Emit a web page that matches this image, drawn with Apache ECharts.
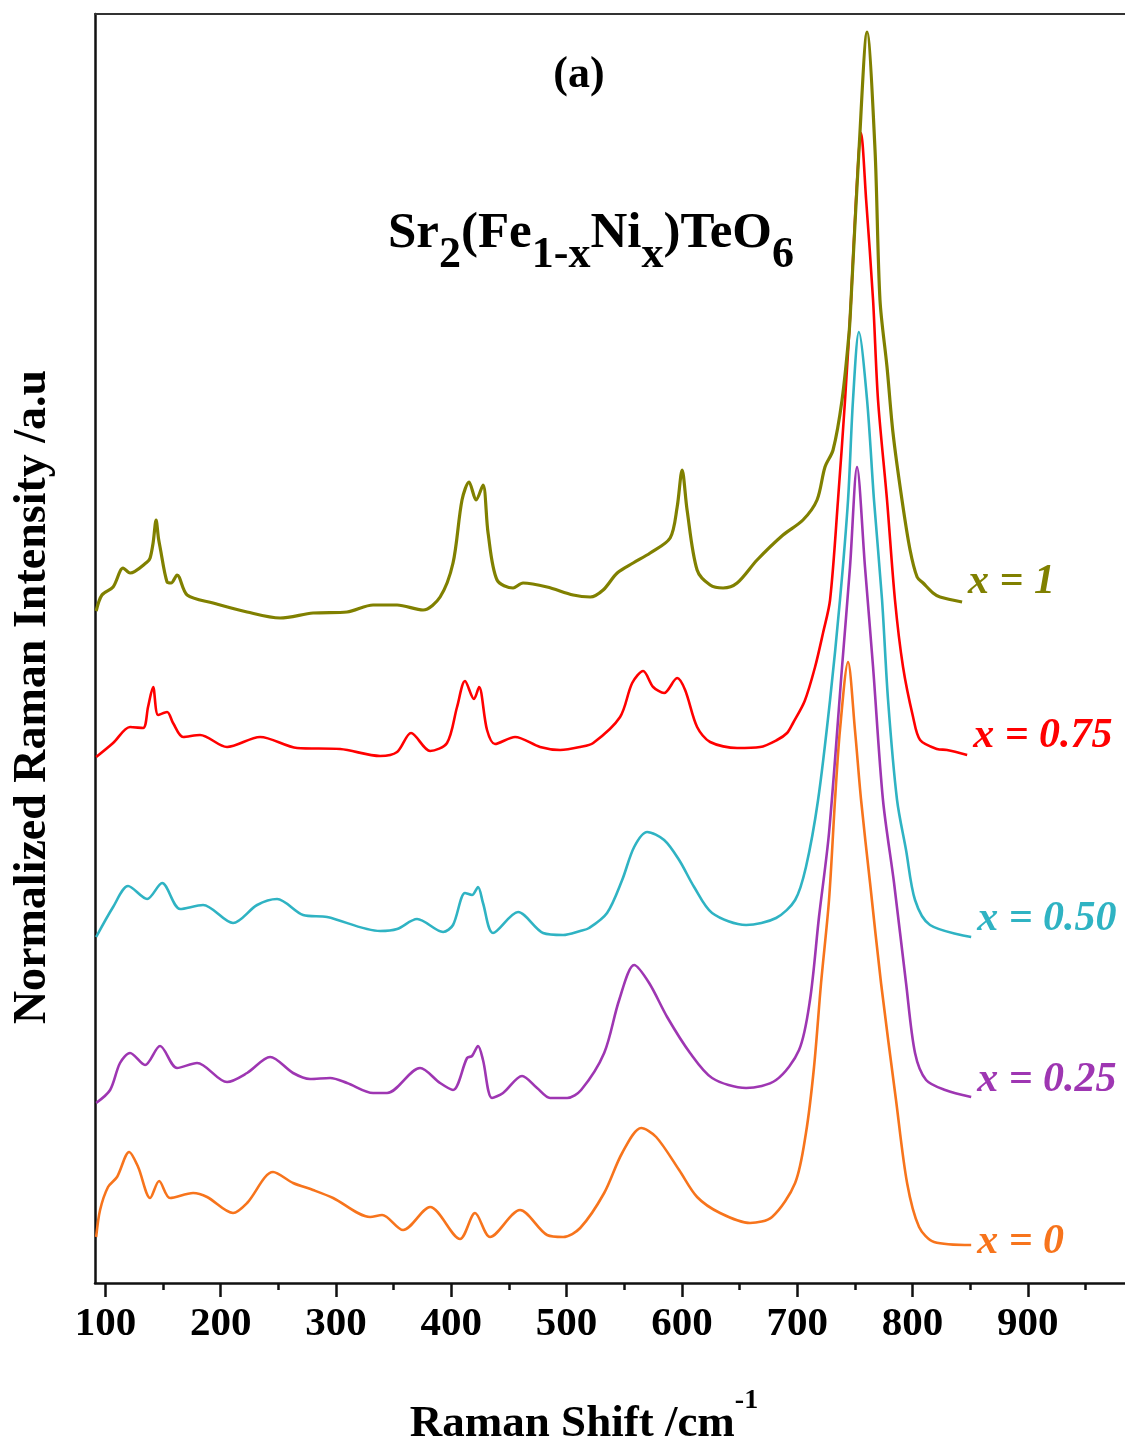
<!DOCTYPE html>
<html><head><meta charset="utf-8">
<script src="https://cdn.jsdelivr.net/npm/echarts@6/dist/echarts.min.js"></script>
<style>html,body{margin:0;padding:0;background:#fff}#chart{width:1125px;height:1441px}</style>
</head><body><div id="chart"></div>
<script>
// ---- data (Raman shift in cm^-1, stacked normalized intensity in a.u.) ----
const xMajorTicks = [100, 200, 300, 400, 500, 600, 700, 800, 900];
const xMinorTicks = [150, 250, 350, 450, 550, 650, 750, 850, 950];
const seriesNames = ['x = 0', 'x = 0.25', 'x = 0.50', 'x = 0.75', 'x = 1'];

const ramanX0 = [92,95.4,102.3,110.1,120.6,128.4,138.8,146.6,156.1,176.1,188.2,210.7,222.9,245.4,262.8,280.1,297.5,329.6,340.0,358.2,381.6,407.6,420.6,433.6,459.6,483.1,497.0,511.8,532.6,548.2,564.7,577.7,597.6,613.2,633.1,659.1,678.2,698.2,707.6,714.6,720.7,727.6,732.8,737.1,744.1,750.1,755.4,763.2,772.7,785.7,795.3,805.7,818.7,850.9];
const intensityX0 = [0.46,0.73,0.96,1.06,1.31,1.16,0.85,1.02,0.85,0.90,0.86,0.70,0.80,1.11,1.00,0.93,0.85,0.66,0.68,0.53,0.76,0.44,0.70,0.46,0.73,0.48,0.46,0.55,0.90,1.30,1.55,1.46,1.13,0.86,0.70,0.60,0.66,1.00,1.50,2.16,3.00,3.83,4.83,5.53,6.21,5.53,4.83,4.00,3.00,1.83,1.00,0.56,0.41,0.38];

const ramanX025 = [92,104.1,112.7,121.4,134.4,147.4,162.2,179.5,205.5,222.9,242.9,262.8,277.5,294.9,309.6,332.2,344.3,372.9,390.3,401.5,413.7,418.0,423.2,427.5,435.3,444.9,461.4,474.4,485.7,500.5,512.6,532.6,545.6,558.6,571.6,587.2,607.1,626.2,655.7,681.7,701.6,711.1,718.9,727.6,738.9,745.8,751.9,758.8,765.8,774.4,784.0,794.4,802.2,811.8,828.3,850.9];
const intensityX025 = [1.80,1.93,2.20,2.30,2.18,2.37,2.15,2.20,2.01,2.10,2.26,2.10,2.04,2.05,2.00,1.90,1.90,2.15,2.00,1.93,2.25,2.27,2.37,2.23,1.85,1.90,2.07,1.95,1.85,1.85,1.93,2.30,2.83,3.18,3.00,2.66,2.30,2.05,1.95,2.03,2.33,2.83,3.66,4.50,6.16,7.16,8.16,7.16,6.16,4.83,4.00,3.00,2.30,2.03,1.93,1.86];

const ramanX050 = [92,106.7,119.7,136.2,149.2,164.8,184.7,210.7,231.6,248.9,271.5,292.3,338.3,353.0,370.3,392.9,401.5,411.9,418.0,423.2,427.5,436.2,457.9,479.6,497.0,511.8,519.6,535.1,548.2,558.6,569.9,584.6,597.6,610.6,626.2,655.7,681.7,698.2,707.6,718.1,728.5,737.1,744.1,748.4,753.5,760.6,766.6,773.6,778.8,786.6,794.4,802.2,815.2,850.9];
const intensityX050 = [3.46,3.76,3.97,3.84,4.00,3.74,3.78,3.60,3.78,3.84,3.68,3.66,3.52,3.54,3.64,3.51,3.58,3.90,3.88,3.96,3.80,3.50,3.71,3.50,3.48,3.52,3.55,3.70,4.03,4.36,4.51,4.43,4.23,3.96,3.70,3.58,3.65,3.83,4.16,4.83,5.83,6.83,7.83,8.83,9.51,8.83,7.83,6.83,5.83,4.83,4.33,3.83,3.58,3.46];

const ramanX075 = [92,106.7,121.4,132.7,137.0,141.4,145.7,153.5,158.7,167.4,182.1,205.5,234.2,266.3,303.6,338.3,353.0,365.1,381.6,396.3,405.0,411.9,419.7,424.1,431.0,437.9,455.3,477.0,494.4,511.8,523.1,546.4,556.9,566.4,575.1,584.6,595.9,602.8,613.2,624.5,647.9,667.8,682.5,691.2,696.4,706.5,715.5,722.4,728.5,735.4,741.5,746.7,751.0,755.4,759.8,765.8,770.1,777.9,784.8,791.8,800.5,806.6,821.3,830.0,847.4];
const intensityX075 = [5.26,5.40,5.56,5.55,5.76,5.96,5.68,5.71,5.60,5.46,5.48,5.36,5.46,5.35,5.34,5.27,5.31,5.50,5.32,5.40,5.76,6.02,5.84,5.96,5.53,5.39,5.46,5.36,5.33,5.36,5.40,5.66,6.00,6.12,5.96,5.90,6.05,5.93,5.56,5.41,5.35,5.36,5.43,5.50,5.60,5.82,6.16,6.50,6.83,7.83,8.83,9.83,10.83,11.50,10.83,9.83,8.83,7.83,6.83,6.16,5.66,5.43,5.34,5.33,5.28];

const ramanX1 = [92,97,106.7,115.4,121.4,136.2,138.8,141.4,144.0,146.0,147.4,153.5,157.0,162.2,170.9,193.4,222.9,251.5,280.1,309.6,332.2,353.0,375.5,390.3,401.5,409.3,415.4,421.5,427.5,431.9,439.7,453.6,462.2,483.1,505.7,520.5,531.7,543.9,557.7,572.5,589.8,595.9,600.2,604.5,613.2,624.5,635.7,647.9,665.2,687.7,705.0,717.2,724.1,731.1,738.9,745.0,746.7,753.6,760.6,767.5,771.8,777.9,783.1,790.9,797.9,804.0,809.2,817.8,823.9,843.0];
const intensityX1 = [6.72,6.88,6.96,7.15,7.10,7.21,7.25,7.40,7.63,7.45,7.36,7.01,7.00,7.08,6.88,6.80,6.71,6.65,6.70,6.71,6.78,6.78,6.73,6.86,7.20,7.83,8.01,7.83,7.98,7.50,7.03,6.95,7.00,6.96,6.88,6.86,6.93,7.10,7.20,7.30,7.45,7.76,8.13,7.73,7.13,6.98,6.95,7.00,7.23,7.48,7.63,7.83,8.16,8.33,8.83,9.50,9.83,11.33,12.51,11.33,9.83,9.16,8.50,7.83,7.33,7.06,7.00,6.90,6.86,6.81];

// ---- build ----
function zip(xs, ys) {
  const n = Math.min(xs.length, ys.length);
  const out = [];
  for (let i = 0; i < n; i++) out.push([xs[i], ys[i]]);
  return out;
}
const allX = [ramanX0, ramanX025, ramanX050, ramanX075, ramanX1];
const allY = [intensityX0, intensityX025, intensityX050, intensityX075, intensityX1];
const colors = ['#f7741c', '#9e36b2', '#2fb3c3', '#ff0000', '#808000'];
const labelDy = [-3, -17, -18, -19, -20];
const serif = '"Liberation Serif", "Times New Roman", serif';

const chart = echarts.init(document.getElementById('chart'), null, {renderer: 'canvas'});

const series = seriesNames.map((name, i) => ({
  name: name,
  type: 'line',
  xAxisIndex: 0,
  yAxisIndex: 0,
  data: zip(allX[i], allY[i]),
  showSymbol: false,
  smooth: 0.3,
  clip: false,
  lineStyle: {color: colors[i], width: i === 4 ? 3.2 : 2.6},
  itemStyle: {color: colors[i]},
  endLabel: {
    show: true,
    formatter: '{a}',
    distance: 6,
    offset: [0, labelDy[i]],
    color: colors[i],
    fontFamily: serif,
    fontStyle: 'italic',
    fontWeight: 'bold',
    fontSize: 42
  }
}));

const axMin = 91, axMax = 984.3;
const option = {
  animation: false,
  backgroundColor: '#ffffff',
  grid: {left: 95, top: 14, right: 0, bottom: 158, containLabel: false},
  xAxis: [
    {
      type: 'value', position: 'bottom', min: axMin, max: axMax,
      axisLine: {show: true, lineStyle: {color: '#111', width: 2.5}},
      axisTick: {show: true, customValues: xMajorTicks, length: 14, inside: false, lineStyle: {color: '#111', width: 2.5}},
      axisLabel: {show: true, customValues: xMajorTicks, margin: 21, color: '#000', fontFamily: serif, fontWeight: 'bold', fontSize: 41},
      splitLine: {show: false}
    },
    {
      type: 'value', position: 'bottom', min: axMin, max: axMax,
      axisLine: {show: false},
      axisTick: {show: true, customValues: xMinorTicks, length: 7, lineStyle: {color: '#111', width: 2.5}},
      axisLabel: {show: false},
      splitLine: {show: false}
    },
    {
      type: 'value', position: 'top', min: axMin, max: axMax,
      axisLine: {show: true, onZero: false, lineStyle: {color: '#333', width: 2}},
      axisTick: {show: false},
      axisLabel: {show: false},
      splitLine: {show: false}
    }
  ],
  yAxis: {
    type: 'value', min: 0, max: 12.69,
    axisLine: {show: true, lineStyle: {color: '#111', width: 2.5}},
    axisTick: {show: false},
    axisLabel: {show: false},
    splitLine: {show: false}
  },
  series: series,
  graphic: [
    {
      type: 'text', x: 579, y: 76,
      style: {text: '(a)', textAlign: 'center', textVerticalAlign: 'middle', fill: '#000',
        font: 'bold 44px ' + serif}
    },
    {
      type: 'text', x: 591, y: 208,
      style: {
        text: '{m|Sr}{s|2}{m|(Fe}{s|1-x}{m|Ni}{s|x}{m|)TeO}{s|6}',
        textAlign: 'center', textVerticalAlign: 'top',
        rich: {
          m: {fontFamily: serif, fontWeight: 'bold', fontSize: 51, lineHeight: 51, verticalAlign: 'top', fill: '#000'},
          s: {fontFamily: serif, fontWeight: 'bold', fontSize: 44, lineHeight: 70, verticalAlign: 'bottom', fill: '#000'}
        }
      }
    },
    {
      type: 'text', x: 584, y: 1387,
      style: {
        text: '{t|Raman Shift /cm}{p|-1}',
        textAlign: 'center', textVerticalAlign: 'top',
        rich: {
          t: {fontFamily: serif, fontWeight: 'bold', fontSize: 45, lineHeight: 60, verticalAlign: 'bottom', fill: '#000'},
          p: {fontFamily: serif, fontWeight: 'bold', fontSize: 28, lineHeight: 28, verticalAlign: 'top', fill: '#000'}
        }
      }
    },
    {
      type: 'text', x: 33, y: 697, rotation: Math.PI / 2,
      style: {text: 'Normalized Raman Intensity /a.u', textAlign: 'center', textVerticalAlign: 'middle',
        fill: '#000', font: 'bold 46px ' + serif}
    }
  ]
};
chart.setOption(option);
</script>
</body></html>
